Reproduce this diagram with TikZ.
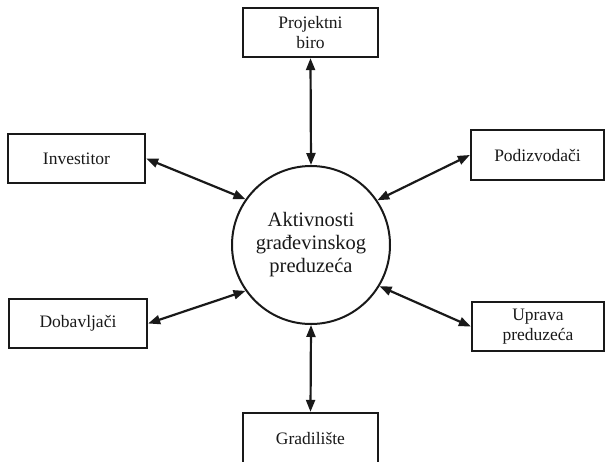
\documentclass[tikz,border=0pt]{standalone}
\usepackage{fontspec}
\setmainfont{Liberation Serif}
\usetikzlibrary{arrows.meta}
\begin{document}
\begin{tikzpicture}[x=1pt,y=-1pt,
  unit/.style={draw=black!90, line width=2.3pt, inner sep=0pt,
    minimum width=135pt, minimum height=49pt, align=center,
    font=\fontsize{17.5}{19.5}\selectfont, text=black!90},
  hub/.style={draw=black!90, line width=2pt, circle, minimum size=158pt,
    inner sep=0pt, align=center, font=\fontsize{20.5}{23}\selectfont, text=black!90},
  link/.style={draw=black!90, line width=2.2pt,
    {Triangle[length=12pt,width=9pt]}-{Triangle[length=12pt,width=9pt]}}]
\useasboundingbox (0,0) rectangle (605,461);
\clip (0,0) rectangle (605,461);

% central activity
\node[hub] (core) at (311,245) {Aktivnosti\\građevinskog\\preduzeća};

% surrounding parties
\node[unit] (biro) at (310.5,32.5) {Projektni\\biro};
\node[unit, minimum width=137pt] (inv) at (76.5,158.5) {Investitor};
\node[unit, minimum width=133pt, minimum height=50pt] (pod) at (537.5,155) {Podizvodači};
\node[unit, minimum width=138pt] (dob) at (78,323.5) {Dobavljači};
\node[unit, minimum width=132pt] (upr) at (538,326.5) {Uprava\\preduzeća};
\node[unit, minimum height=50pt] (grad) at (310.5,438) {Gradilište};

% two-way links
\draw[link] (biro.south) -- (core.north);
\draw[link] (inv.east) -- (core.145);
\draw[link] (pod.west) -- (core.34.5);
\draw[link] (dob.east) -- (core.215.5);
\draw[link] (upr.west) -- (core.329.5);
\draw[link] (core.south) -- (grad.north);
\end{tikzpicture}
\end{document}
